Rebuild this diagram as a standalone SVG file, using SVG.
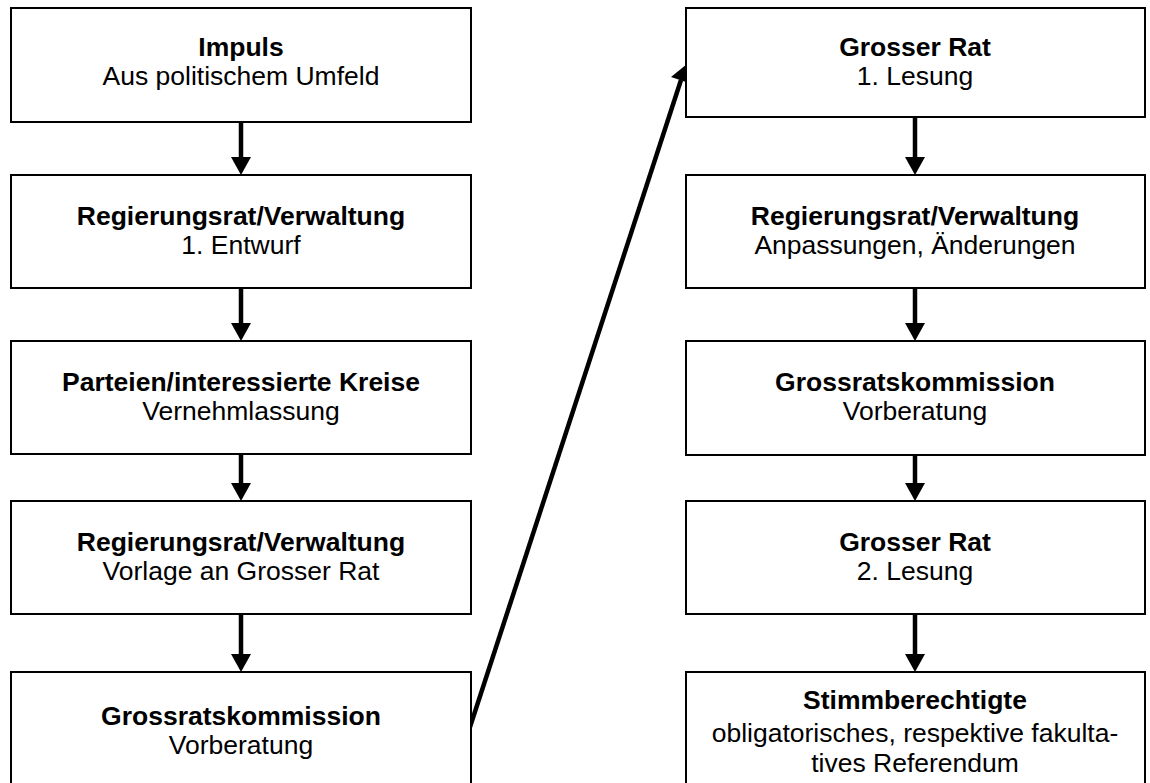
<svg xmlns="http://www.w3.org/2000/svg" width="1150" height="783" viewBox="0 0 1150 783">
<style>
.box{fill:#fff;stroke:#000;stroke-width:2}
.t{font-family:"Liberation Sans",Arial,sans-serif;font-size:26.5px;text-anchor:middle;fill:#000}
.b{font-weight:bold}
.c{stroke:#000;stroke-width:4.5;fill:none}
.h{fill:#000}
</style>
<rect width="1150" height="783" fill="#fff"/>
<g id="connectors">
<line class="c" x1="241" y1="122" x2="241" y2="160"/><polygon class="h" points="231,157 251,157 241,175"/>
<line class="c" x1="241" y1="288" x2="241" y2="326"/><polygon class="h" points="231,323 251,323 241,341"/>
<line class="c" x1="241" y1="454" x2="241" y2="486"/><polygon class="h" points="231,483 251,483 241,501"/>
<line class="c" x1="241" y1="614" x2="241" y2="657"/><polygon class="h" points="231,654 251,654 241,672"/>
<line class="c" x1="915" y1="117" x2="915" y2="160"/><polygon class="h" points="905,157 925,157 915,175"/>
<line class="c" x1="915" y1="288" x2="915" y2="326"/><polygon class="h" points="905,323 925,323 915,341"/>
<line class="c" x1="915" y1="455" x2="915" y2="486"/><polygon class="h" points="905,483 925,483 915,501"/>
<line class="c" x1="915" y1="614" x2="915" y2="657"/><polygon class="h" points="905,654 925,654 915,672"/>
<line class="c" x1="470" y1="727" x2="681" y2="80"/><polygon class="h" points="687,64 689,83 671,77"/>
</g>
<g id="n1"><rect class="box" x="11" y="8" width="460" height="114"/><text class="t b" x="241" y="56">Impuls</text><text class="t" x="241" y="85">Aus politischem Umfeld</text></g>
<g id="n2"><rect class="box" x="11" y="175" width="460" height="113"/><text class="t b" x="241" y="225">Regierungsrat/Verwaltung</text><text class="t" x="241" y="254">1. Entwurf</text></g>
<g id="n3"><rect class="box" x="11" y="341" width="460" height="113"/><text class="t b" x="241" y="391">Parteien/interessierte Kreise</text><text class="t" x="241" y="420">Vernehmlassung</text></g>
<g id="n4"><rect class="box" x="11" y="501" width="460" height="113"/><text class="t b" x="241" y="551">Regierungsrat/Verwaltung</text><text class="t" x="241" y="580">Vorlage an Grosser Rat</text></g>
<g id="n5"><rect class="box" x="11" y="672" width="460" height="120"/><text class="t b" x="241" y="725">Grossratskommission</text><text class="t" x="241" y="754">Vorberatung</text></g>
<g id="n6"><rect class="box" x="686" y="8" width="459" height="109"/><text class="t b" x="915" y="56">Grosser Rat</text><text class="t" x="915" y="85">1. Lesung</text></g>
<g id="n7"><rect class="box" x="686" y="175" width="459" height="113"/><text class="t b" x="915" y="225">Regierungsrat/Verwaltung</text><text class="t" x="915" y="254">Anpassungen, Änderungen</text></g>
<g id="n8"><rect class="box" x="686" y="341" width="459" height="114"/><text class="t b" x="915" y="391">Grossratskommission</text><text class="t" x="915" y="420">Vorberatung</text></g>
<g id="n9"><rect class="box" x="686" y="501" width="459" height="113"/><text class="t b" x="915" y="551">Grosser Rat</text><text class="t" x="915" y="580">2. Lesung</text></g>
<g id="n10"><rect class="box" x="686" y="672" width="459" height="120"/><text class="t b" x="915" y="709">Stimmberechtigte</text><text class="t" x="915" y="742">obligatorisches, respektive fakulta-</text><text class="t" x="915" y="772">tives Referendum</text></g>
</svg>
